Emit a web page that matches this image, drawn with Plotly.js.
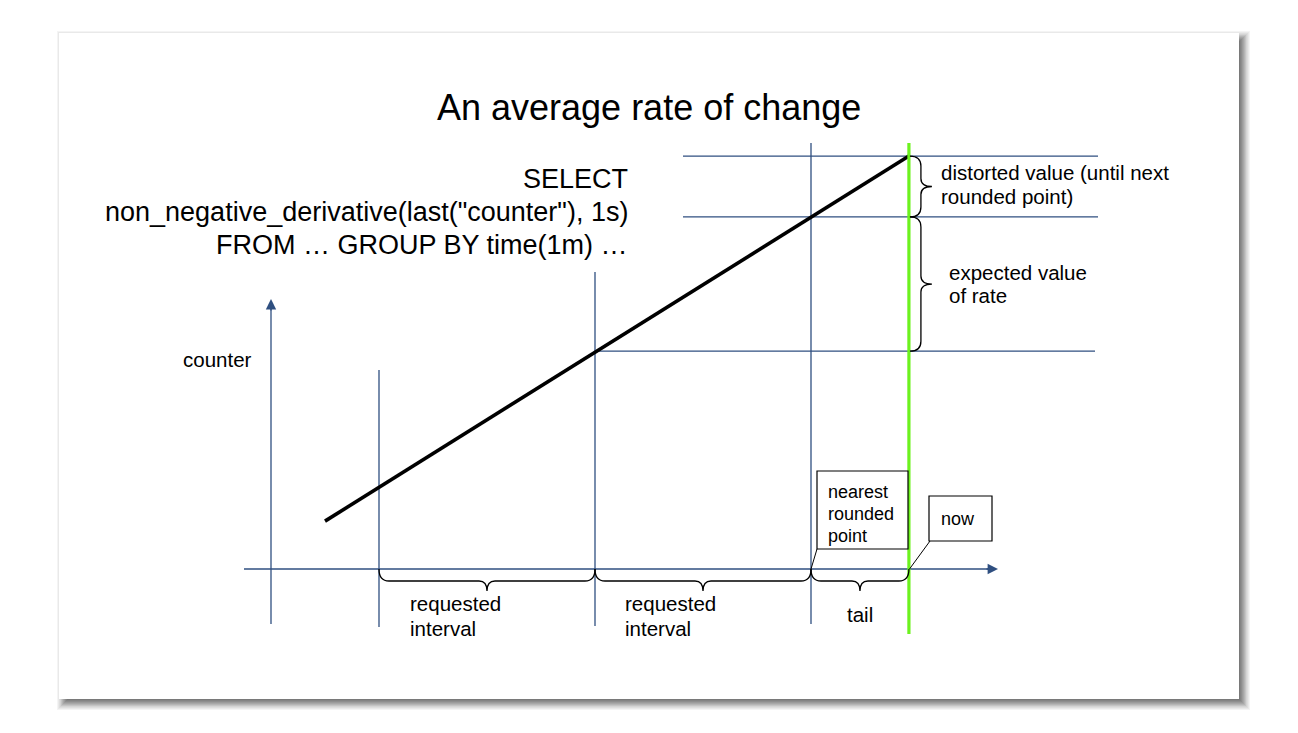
<!DOCTYPE html>
<html><head><meta charset="utf-8">
<script src="https://cdn.plot.ly/plotly-3.0.1.min.js"></script>
<style>html,body{margin:0;padding:0;background:#fff;} #chart{width:1298px;height:733px;}</style>
</head><body><div id="chart"></div>
<script>
// ---------------- data (time in seconds, counter in arbitrary units) ----------------
const intervalBounds = [60, 120, 180];          // GROUP BY time(1m) boundaries
const nowT = 207.2;                              // current time ("now")
const counterT = [45, 207.2];                    // counter line, time
const counterValues = [13.3, 114.7];             // counter line, value
const rateLevels = [60.5, 97.8, 114.7];          // counter at 120 s, at nearest rounded point, at now
const titleText = 'An average rate of change';
const queryLines = ['SELECT', 'non_negative_derivative(last("counter"), 1s)', 'FROM … GROUP BY time(1m) …'];
const yAxisLabel = 'counter';
const braceLabelsRight = [['distorted value (until next', 'rounded point)'], ['expected value', 'of rate']];
const braceLabelsBottom = [['requested', 'interval'], ['requested', 'interval'], ['tail']];
const calloutLabels = [['nearest', 'rounded', 'point'], ['now']];

// ---------------- layout geometry ----------------
const W = 1298, H = 733, K = 3.6;               // px per unit
const OX = 271, OY = 569, OT = 30;              // axis origin in px <-> (OT, 0)
const toT = px => OT + (px - OX) / K;
const toC = py => (OY - py) / K;
const BLUE = '#2f4f80', GREEN = '#6cf21e', FONT = 'Liberation Sans, Arial, sans-serif';

const traces = [];
function seg(xs, ys, color, width) {
  traces.push({type: 'scatter', mode: 'lines', x: xs, y: ys, hoverinfo: 'skip', showlegend: false,
    line: {color: color, width: width}});
}
// axes
seg([OT, OT], [toC(624), toC(302)], BLUE, 1.3);
seg([toT(244), toT(994)], [0, 0], BLUE, 1.3);
// interval boundaries
const boundTops = [370, 272, 143], boundBottoms = [627, 626, 624];
intervalBounds.forEach((b, i) => seg([b, b], [toC(boundBottoms[i]), toC(boundTops[i])], BLUE, 1.3));
// rate levels
seg([intervalBounds[1], toT(1095)], [rateLevels[0], rateLevels[0]], BLUE, 1.3);
seg([toT(683), toT(1098)], [rateLevels[1], rateLevels[1]], BLUE, 1.3);
seg([toT(683), toT(1098)], [rateLevels[2], rateLevels[2]], BLUE, 1.3);
// counter
seg(counterT, counterValues, '#000000', 3.6);
// now
seg([nowT, nowT], [toC(634), toC(143)], GREEN, 3.2);

// ---------------- shapes ----------------
const shapes = [];
const P = (px, py) => [px / W, 1 - py / H];
// slide shadow
const S = {x0: 59, y0: 33, x1: 1239, y1: 699};
for (let e = -6; e <= 7; e++) {
  const a = e > 3 ? 0.045 : 0.075;
  shapes.push({type: 'rect', xref: 'paper', yref: 'paper', layer: 'below',
    x0: (S.x0 + 5 - e) / W, x1: (S.x1 + 4 + e) / W, y0: 1 - (S.y1 + 4 + e) / H, y1: 1 - (S.y0 + 5 - e) / H,
    line: {width: 0}, fillcolor: 'rgba(0,0,0,' + a + ')'});
}
shapes.push({type: 'rect', xref: 'paper', yref: 'paper', layer: 'below',
  x0: S.x0 / W, x1: S.x1 / W, y0: 1 - S.y1 / H, y1: 1 - S.y0 / H, line: {width: 0}, fillcolor: '#ffffff'});

function hBrace(t0, t1, c0) {
  const a = 10 / K, d1 = 12 / K, d2 = 22 / K, h = 8 / K, m = (t0 + t1) / 2;
  return `M${t0},${c0} Q${t0},${c0 - d1} ${t0 + a},${c0 - d1} L${m - h},${c0 - d1} Q${m},${c0 - d1} ${m},${c0 - d2} ` +
         `Q${m},${c0 - d1} ${m + h},${c0 - d1} L${t1 - a},${c0 - d1} Q${t1},${c0 - d1} ${t1},${c0}`;
}
function vBrace(c0, c1, t) {
  const ts = t + 1 / K, s1 = t + 12 / K, tip = t + 23 / K, a = 10 / K, h = 8 / K, m = (c0 + c1) / 2;
  return `M${ts},${c0} Q${s1},${c0} ${s1},${c0 - a} L${s1},${m + h} Q${s1},${m} ${tip},${m} ` +
         `Q${s1},${m} ${s1},${m - h} L${s1},${c1 + a} Q${s1},${c1} ${ts},${c1}`;
}
const braceLine = {color: '#000000', width: 1.3};
shapes.push({type: 'path', xref: 'x', yref: 'y', path: hBrace(intervalBounds[0], intervalBounds[1], 0), line: braceLine});
shapes.push({type: 'path', xref: 'x', yref: 'y', path: hBrace(intervalBounds[1], intervalBounds[2], 0), line: braceLine});
shapes.push({type: 'path', xref: 'x', yref: 'y', path: hBrace(intervalBounds[2], nowT, 0), line: braceLine});
shapes.push({type: 'path', xref: 'x', yref: 'y', path: vBrace(rateLevels[2], rateLevels[1], nowT), line: braceLine});
shapes.push({type: 'path', xref: 'x', yref: 'y', path: vBrace(rateLevels[1], rateLevels[0], nowT), line: braceLine});

// callout boxes
function box(x0, y0, x1, y1) {
  const a = P(x0, y0), b = P(x1, y1);
  shapes.push({type: 'rect', xref: 'paper', yref: 'paper', x0: a[0], y0: b[1], x1: b[0], y1: a[1],
    line: {color: '#000000', width: 1.2}, fillcolor: '#ffffff', layer: 'above'});
}
function pline(x0, y0, x1, y1) {
  const a = P(x0, y0), b = P(x1, y1);
  shapes.push({type: 'line', xref: 'paper', yref: 'paper', x0: a[0], y0: a[1], x1: b[0], y1: b[1],
    line: {color: '#000000', width: 1}, layer: 'above'});
}
box(817, 471, 908, 549);
pline(817, 549, 811, 569);
box(929, 496, 992, 541);
pline(930, 541, 909.5, 569);

// ---------------- annotations ----------------
const annotations = [];
function txt(text, px, py, size, anchor) {
  const p = P(px, py);
  annotations.push({text: text, xref: 'paper', yref: 'paper', x: p[0], y: p[1], xanchor: anchor, yanchor: 'middle',
    showarrow: false, borderpad: 0, font: {family: FONT, size: size, color: '#000000'}});
}
txt(titleText, 648.5, 108, 36, 'center');
queryLines.forEach((l, i) => txt(l, 629, [179, 211.8, 244.8][i], 27, 'right'));
txt(yAxisLabel, 182, 359.6, 20.5, 'left');
braceLabelsRight[0].forEach((l, i) => txt(l, 940, [172.2, 196.9][i], 20.5, 'left'));
braceLabelsRight[1].forEach((l, i) => txt(l, 947.5, [272.2, 295.6][i], 20.5, 'left'));
braceLabelsBottom[0].forEach((l, i) => txt(l, 408.5, [603.8, 628.2][i], 20.5, 'left'));
braceLabelsBottom[1].forEach((l, i) => txt(l, 623.5, [603.8, 628.2][i], 20.5, 'left'));
braceLabelsBottom[2].forEach((l, i) => txt(l, 846, [614.8][i], 20.5, 'left'));
calloutLabels[0].forEach((l, i) => txt(l, 827, [492.5, 514.3, 535.5][i], 18, 'left'));
calloutLabels[1].forEach((l, i) => txt(l, 940, [518.5][i], 18, 'left'));

// axis arrowheads
annotations.push({text: '', x: OT, y: toC(299), ax: OT, ay: toC(312), xref: 'x', yref: 'y', axref: 'x', ayref: 'y',
  showarrow: true, arrowhead: 2, arrowsize: 1.6, arrowwidth: 1.3, arrowcolor: BLUE, standoff: 0, startstandoff: 0});
annotations.push({text: '', x: toT(998), y: 0, ax: toT(985), ay: 0, xref: 'x', yref: 'y', axref: 'x', ayref: 'y',
  showarrow: true, arrowhead: 2, arrowsize: 1.6, arrowwidth: 1.3, arrowcolor: BLUE, standoff: 0, startstandoff: 0});

const layout = {
  width: W, height: H, margin: {l: 0, r: 0, t: 0, b: 0},
  paper_bgcolor: '#ffffff', plot_bgcolor: 'rgba(0,0,0,0)',
  xaxis: {range: [toT(0), toT(W)], visible: false, fixedrange: true},
  yaxis: {range: [toC(H), toC(0)], visible: false, fixedrange: true},
  shapes: shapes, annotations: annotations, showlegend: false
};
Plotly.newPlot('chart', traces, layout, {staticPlot: true, displayModeBar: false});
</script></body></html>
